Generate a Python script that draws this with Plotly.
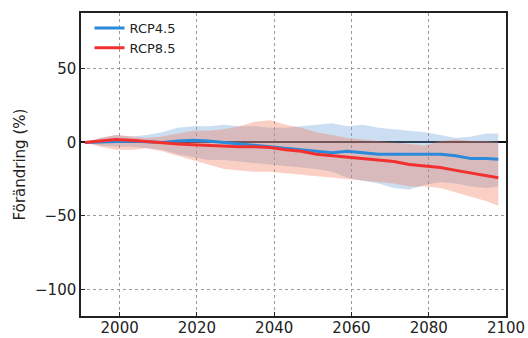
import plotly.graph_objects as go

years = [1991, 1995, 1999, 2003, 2007, 2011, 2015, 2019, 2023, 2027, 2031, 2035, 2039, 2043,
         2047, 2051, 2055, 2059, 2063, 2067, 2071, 2075, 2079, 2083, 2087, 2091, 2095, 2098]

rcp45_median = [0, 0.5, 1, 1, 0.5, 0, 1, 1.5, 1, 0, -1, -2, -3, -4, -5, -6, -7, -6, -7, -8, -8,
                -8, -7.5, -8, -9, -11, -11, -11.5]
rcp85_median = [0, 1, 2, 1.5, 0.5, 0, -1, -1.5, -2, -3, -3, -3, -3.5, -5, -6, -8, -9, -9.5, -11,
                -12, -13, -15, -16, -17, -19, -21, -23, -24]

rcp45_upper = [0, 3, 5, 4, 5, 7, 10, 11, 11, 12, 11, 11, 10, 10, 11, 12, 13, 11, 12, 10, 9, 8, 7,
               5, 3, 4, 6, 6]
rcp45_lower = [0, -2, -3, -3, -4, -5, -8, -10, -12, -12, -13, -14, -15, -16, -17, -18, -20, -24,
               -26, -28, -31, -32, -29, -27, -28, -30, -31, -30]
rcp85_upper = [0, 3, 5, 4, 3, 4, 6, 8, 8, 9, 11, 14, 15, 12, 10, 7, 5, 3, 2, 1, 0, -1, -2, 1, 2,
               1, 1, 0]
rcp85_lower = [0, -3, -5, -5, -4, -6, -9, -12, -15, -18, -19, -20, -20, -21, -22, -23, -24, -25,
               -26, -27, -28, -30, -30, -31, -34, -37, -40, -43]

x_ticks = [2000, 2020, 2040, 2060, 2080, 2100]
y_ticks = [-100, -50, 0, 50]

blue = "#2b8ad9"
red = "#f23030"
blue_fill = "rgba(110,160,215,0.35)"
red_fill = "rgba(240,120,90,0.35)"

fig = go.Figure()

# bands
fig.add_trace(go.Scatter(x=years, y=rcp45_upper, mode="lines", line=dict(width=0),
                         showlegend=False, hoverinfo="skip"))
fig.add_trace(go.Scatter(x=years, y=rcp45_lower, mode="lines", line=dict(width=0),
                         fill="tonexty", fillcolor=blue_fill, showlegend=False, hoverinfo="skip"))
fig.add_trace(go.Scatter(x=years, y=rcp85_upper, mode="lines", line=dict(width=0),
                         showlegend=False, hoverinfo="skip"))
fig.add_trace(go.Scatter(x=years, y=rcp85_lower, mode="lines", line=dict(width=0),
                         fill="tonexty", fillcolor=red_fill, showlegend=False, hoverinfo="skip"))

# medians
fig.add_trace(go.Scatter(x=years, y=rcp45_median, mode="lines", name="RCP4.5",
                         line=dict(color=blue, width=3)))
fig.add_trace(go.Scatter(x=years, y=rcp85_median, mode="lines", name="RCP8.5",
                         line=dict(color=red, width=3)))

axis_common = dict(
    showline=True, linecolor="#222", linewidth=1.5, mirror=True,
    showgrid=True, gridcolor="#9a9a9a", griddash="dot", gridwidth=1,
    ticks="inside", ticklen=4, tickcolor="#222",
    tickfont=dict(family="DejaVu Sans", size=15, color="#222"),
)

fig.update_layout(
    width=528, height=338,
    margin=dict(l=81, r=22, t=13, b=22, autoexpand=False),
    paper_bgcolor="white", plot_bgcolor="white",
    font=dict(family="DejaVu Sans", size=13, color="#222"),
    showlegend=True,
    legend=dict(x=0.02, y=1.0, xanchor="left", yanchor="top", traceorder="normal",
                bgcolor="rgba(0,0,0,0)", borderwidth=0,
                font=dict(family="DejaVu Sans", size=13, color="#222"),
                itemwidth=30, tracegroupgap=0),
    xaxis=dict(range=[1990, 2100], tickvals=x_ticks, zeroline=False, automargin=False,
               ticklabelstandoff=-3, **axis_common),
    yaxis=dict(range=[-118, 88], tickvals=y_ticks, zeroline=True, zerolinecolor="#111",
               zerolinewidth=1.5, automargin=False,
               title=dict(text="Förändring (%)", font=dict(family="DejaVu Sans", size=15, color="#222"),
                          standoff=6),
               **axis_common),
)

fig.write_html("out.html", config={"displayModeBar": False},
               post_script="document.body.style.margin='0';")
